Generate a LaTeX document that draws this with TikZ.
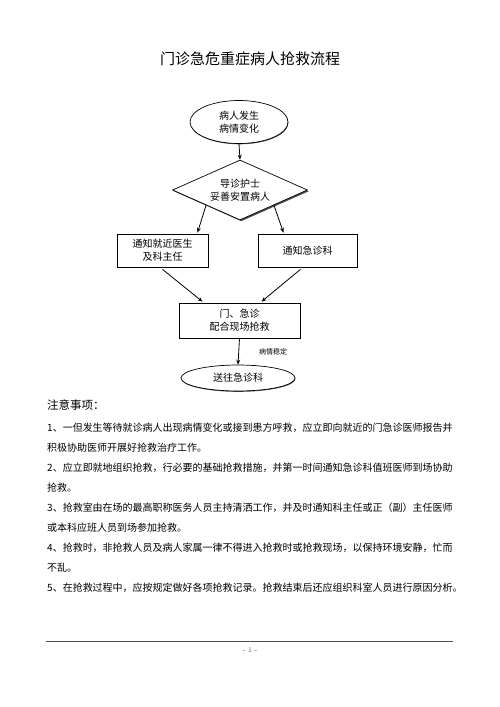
\documentclass[tikz,border=0pt]{standalone}
\usepackage{fontspec}
\newfontfamily\cjk{Noto Sans CJK SC}
\usetikzlibrary{shapes.geometric,arrows.meta,shadows,calc}
\begin{document}
\begin{tikzpicture}[x=1pt,y=-1pt,
  every node/.style={font=\cjk},
  fl/.style={font=\cjk\fontsize{10}{13}\selectfont, align=center, draw=black, line width=0.7pt, fill=white},
  shad/.style={drop shadow={shadow xshift=1.3pt, shadow yshift=-1.3pt, fill=black!70, opacity=1}},
  boxs/.style={fl, shad, rectangle, inner sep=0pt},
  ell/.style={fl, ellipse, inner sep=0pt, drop shadow={shadow xshift=0.4pt, shadow yshift=-0.8pt, fill=black!70, opacity=1}},
  dia/.style={fl, shad, diamond, inner sep=0pt, aspect=2.25},
  arr/.style={-{Stealth[length=5pt,width=4pt]}, line width=0.8pt},
  body/.style={anchor=base west, inner sep=0pt, font=\cjk\fontsize{10}{12}\selectfont}]
\useasboundingbox[fill=white] (0,0) rectangle (500,707);

\node (title) at (250,59) {\fontsize{15}{18}\selectfont 门诊急危重症病人抢救流程};

\node[ell, minimum width=98pt, minimum height=43pt] (e1) at (239,122) {病人发生\\病情变化};
\node[dia, minimum width=135pt, minimum height=60pt] (d) at (240,190) {导诊护士\\妥善安置病人};
\node[boxs, minimum width=91pt, minimum height=33pt] (l) at (162.5,250.5) {通知就近医生\\及科主任};
\node[boxs, minimum width=99pt, minimum height=33pt] (r) at (307.5,250.5) {通知急诊科};
\node[boxs, minimum width=121pt, minimum height=35pt] (m) at (239.5,320.5) {门、急诊\\配合现场抢救};
\node[ell, minimum width=114pt, minimum height=26pt] (e2) at (238,378) {送往急诊科};
\node[font=\cjk\fontsize{7}{8}\selectfont] (lab) at (273,352) {病情稳定};

\draw[arr] (e1.south) -- (d.north);
\coordinate (la) at ($(l.north)+(35,-1)$);
\coordinate (ra) at ($(r.north)+(-24,-1)$);
\draw[arr] (d.south west) -- (la);
\draw[arr] (d.south east) -- (ra);
\coordinate (ls) at ($(l.south)+(0,2)$);
\coordinate (rs) at ($(r.south)+(-7,2)$);
\coordinate (ma) at ($(m.north)+(-37,-1)$);
\coordinate (mb) at ($(m.north)+(22,-1)$);
\draw[arr] (ls) -- (ma);
\draw[arr] (rs) -- (mb);
\draw[arr] (m.south) -- (e2.north);

\node[anchor=base west, inner sep=0pt, font=\cjk\fontsize{11.5}{13}\selectfont] (h) at (47,409.5) {注意事项：};
\node[body] (t1) at (47,431) {1、一但发生等待就诊病人出现病情变化或接到患方呼救，应立即向就近的门急诊医师报告并};
\node[body] (t2) at (47,451) {积极协助医师开展好抢救治疗工作。};
\node[body] (t3) at (47,471) {2、应立即就地组织抢救，行必要的基础抢救措施，并第一时间通知急诊科值班医师到场协助};
\node[body] (t4) at (47,491) {抢救。};
\node[body] (t5) at (47,511) {3、抢救室由在场的最高职称医务人员主持清洒工作，并及时通知科主任或正（副）主任医师};
\node[body] (t6) at (47,531) {或本科应班人员到场参加抢救。};
\node[body] (t7) at (47,551) {4、抢救时，非抢救人员及病人家属一律不得进入抢救时或抢救现场，以保持环境安静，忙而};
\node[body] (t8) at (47,571) {不乱。};
\node[body] (t9) at (47,591) {5、在抢救过程中，应按规定做好各项抢救记录。抢救结束后还应组织科室人员进行原因分析。};

\coordinate (fa) at (46,641);
\coordinate (fb) at (453,641);
\draw[line width=0.6pt, black!70] (fa) -- (fb);
\node[font=\fontsize{7}{8}\selectfont, text=black!70] (pg) at (250,650) {- 1 -};
\end{tikzpicture}
\end{document}
